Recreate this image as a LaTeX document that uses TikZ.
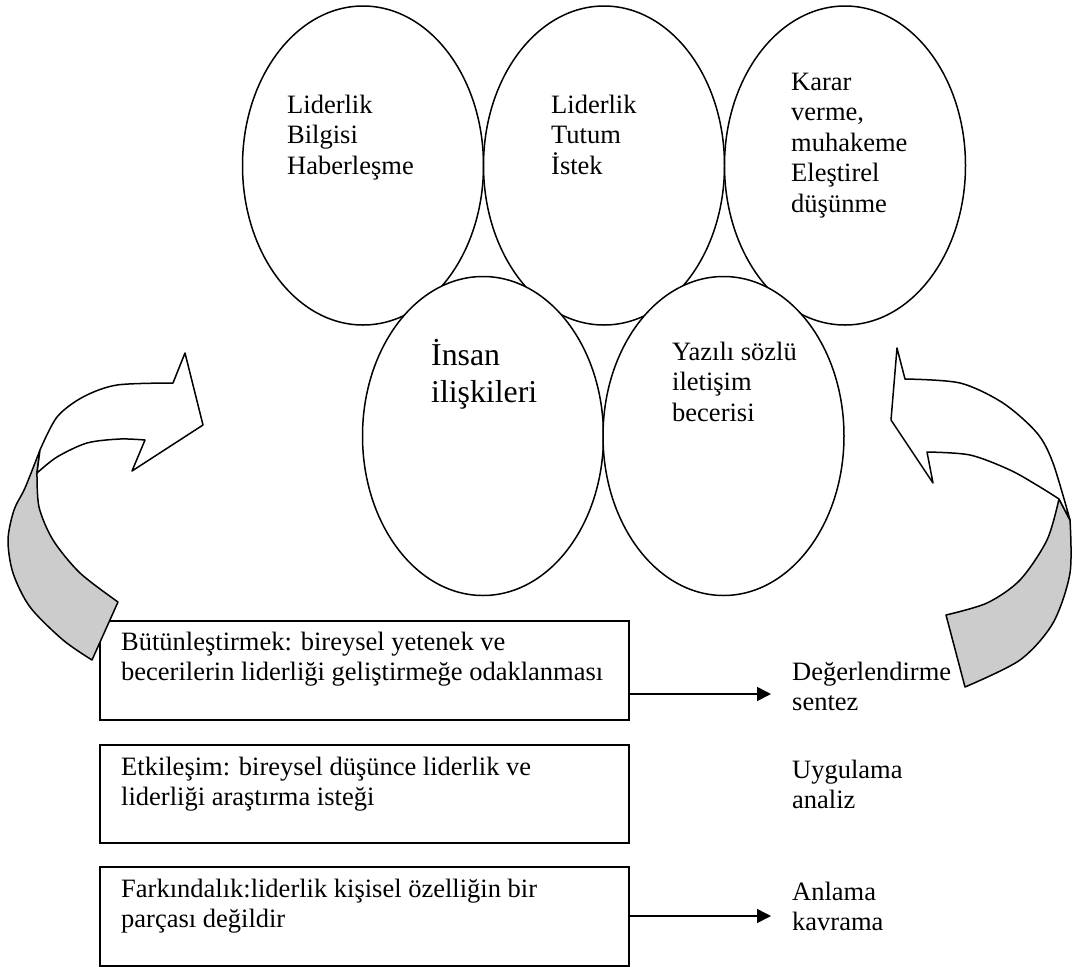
\documentclass[tikz,border=0pt]{standalone}
\usepackage{fontspec}
\setmainfont{Liberation Serif}
\usetikzlibrary{shapes.geometric,arrows.meta}
\tikzset{
  lw/.style={line width=1.5pt},
  oval/.style={ellipse, draw, lw, fill=white, inner sep=0pt, minimum width=241pt, minimum height=319pt},
  txt/.style={anchor=base west, inner sep=0pt, align=left, font=\fontsize{26.5}{30.5}\selectfont},
  bigtxt/.style={anchor=base west, inner sep=0pt, align=left, font=\fontsize{31.8}{37}\selectfont},
  box/.style={draw, lw, fill=white, anchor=north west, inner sep=0pt, minimum width=529pt},
  arr/.style={lw, -{Triangle[length=14pt,width=14pt]}},
  ribbon/.style={lw, line join=round},
}
\begin{document}
\begin{tikzpicture}[x=1pt,y=-1pt]
\useasboundingbox (0,0) rectangle (1072,967);

% boxes (text nodes are placed by the baseline of their last line)
\node[box, minimum height=99pt] (b1) at (99,620) {};
\node[box, minimum height=98pt] (b2) at (99,744) {};
\node[box, minimum height=99pt] (b3) at (99,866) {};
\node[txt] (t1) at (121,680.5) {Bütünleştirmek: bireysel yetenek ve\\becerilerin liderliği geliştirmeğe odaklanması};
\node[txt] (t2) at (121,805.5) {Etkileşim: bireysel düşünce liderlik ve\\liderliği araştırma isteği};
\node[txt] (t3) at (121,927.5) {Farkındalık:liderlik kişisel özelliğin bir\\parçası değildir};

% ellipses
\node[oval] (e1) at (363,165.5) {};
\node[oval] (e2) at (604,165.5) {};
\node[oval] (e3) at (845,165.5) {};
\node[oval] (e4) at (483,436) {};
\node[oval] (e5) at (723.5,436) {};
\node[txt] (x1) at (287,174) {Liderlik\\Bilgisi\\Haberleşme};
\node[txt] (x2) at (551,174) {Liderlik\\Tutum\\İstek};
\node[txt] (x3) at (791,212) {Karar\\verme,\\muhakeme\\Eleştirel\\düşünme};
\node[bigtxt] (x4) at (431,402) {İnsan\\ilişkileri};
\node[txt] (x5) at (672,421) {Yazılı sözlü\\iletişim\\becerisi};

% left curved arrow
\path[ribbon, draw, fill=gray!40]
  plot[smooth] coordinates {(40,450) (25,488) (14,510) (8,540) (13,573) (30,607) (63,640) (92,660)}
  -- plot[smooth] coordinates {(118,602) (80,573) (53,540) (39,507) (37,473)} -- cycle;
\path[ribbon, draw, fill=white]
  plot[smooth] coordinates {(37,473) (57,457) (87,443) (120,439) (145,440)}
  -- (132,471) -- (203,425) -- (185,353) -- (173,383)
  -- plot[smooth] coordinates {(173,383) (117,385) (83,397) (57,417) (40,450)} -- cycle;

% right curved arrow
\path[ribbon, draw, fill=gray!40]
  plot[smooth] coordinates {(1059,499) (1047,540) (1020,580) (987,603) (946,615)}
  -- plot[smooth] coordinates {(965,687) (1020,660) (1053,623) (1070,573) (1070,520)} -- cycle;
\path[ribbon, draw, fill=white]
  plot[smooth] coordinates {(1070,520) (1053,463) (1037,433) (1003,403) (960,383) (905,379)}
  -- (897,348) -- (891,420) -- (933,483) -- (927,452)
  -- plot[smooth] coordinates {(927,452) (970,455) (1010,470) (1040,487) (1059,499)} -- cycle;

% labels on the right
\node[txt] (l1) at (792,710.5) {Değerlendirme\\sentez};
\node[txt] (l2) at (792,808.5) {Uygulama\\analiz};
\node[txt] (l3) at (792,930.5) {Anlama\\kavrama};

\coordinate (a1) at (771,694);
\coordinate (a3) at (771,916);
\draw[arr] (b1.east |- a1) -- (a1);
\draw[arr] (b3.east |- a3) -- (a3);
\end{tikzpicture}
\end{document}
